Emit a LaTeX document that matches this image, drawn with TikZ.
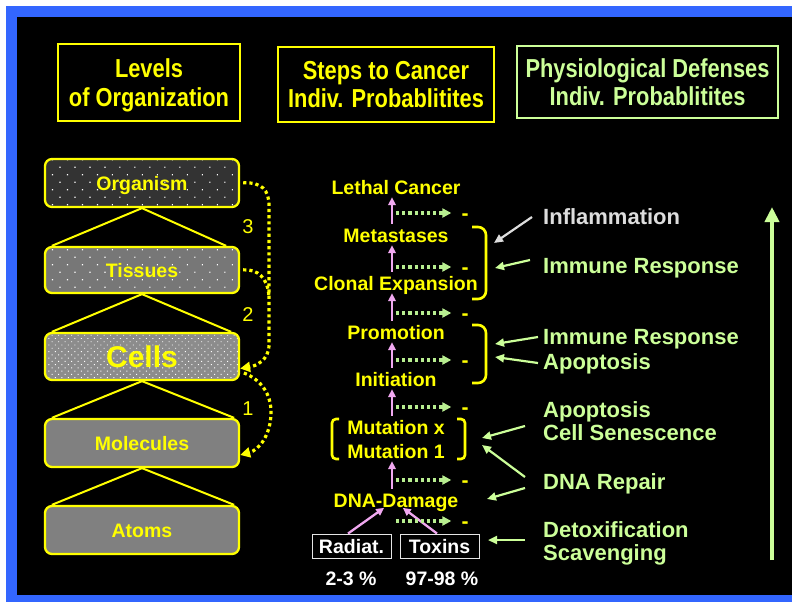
\documentclass[tikz,border=0pt]{standalone}
\usepackage{fontspec}
\setmainfont{Liberation Sans}
\newfontfamily\condfont[FakeStretch=0.84]{Liberation Sans}
\usetikzlibrary{arrows.meta,patterns.meta}
\definecolor{ylw}{HTML}{FFFF00}
\definecolor{lgreen}{HTML}{CCFF99}
\definecolor{dgreen}{HTML}{B8EE90}
\definecolor{pinkc}{HTML}{F0A8F0}
\definecolor{bluec}{HTML}{3366FF}
\definecolor{inflc}{HTML}{DDDDDD}
\definecolor{gA}{HTML}{333333}
\definecolor{gB}{HTML}{777777}
\definecolor{gC}{HTML}{8C8C8C}
\definecolor{gM}{HTML}{808080}
\begin{document}
\begin{tikzpicture}[x=1pt,y=-1pt,
  titlebox/.style={draw=#1, line width=2.3pt, text=#1, align=center,
    font=\condfont\bfseries\fontsize{26}{28.5}\selectfont, inner sep=0pt, text depth=0pt},
  level/.style={draw=ylw, line width=2.3pt, rounded corners=7pt, minimum width=194pt,
    text=ylw, font=\bfseries\fontsize{19.5}{20}\selectfont, inner sep=0pt,
    text height=14pt, text depth=0pt, preaction={fill=#1}},
  dotsA/.style={pattern={Dots[radius=0.8pt,distance=10.6pt,angle=45]}, pattern color=white},
  dotsB/.style={pattern={Dots[radius=0.65pt,distance=4.6pt,angle=45]}, pattern color=white},
  ylink/.style={draw=ylw, line width=2pt},
  ydot/.style={draw=ylw, line width=3.2pt, dash pattern=on 3.2pt off 3pt},
  ytip/.style={-{Triangle[length=10pt,width=10pt]}},
  num/.style={text=ylw, font=\fontsize{20}{20}\selectfont, inner sep=0pt, text height=14.3pt, text depth=0pt},
  steplbl/.style={text=ylw, font=\bfseries\fontsize{19.5}{20}\selectfont, inner sep=0pt, text height=14pt, text depth=0pt},
  srcbox/.style={draw=white!80!gray, line width=0.9pt, minimum width=79pt, minimum height=24pt,
    text=white, font=\bfseries\fontsize{19.5}{20}\selectfont, inner sep=0pt, text height=14pt, text depth=0pt},
  pct/.style={text=white, font=\bfseries\fontsize{19.5}{20}\selectfont, inner sep=0pt, text height=14pt, text depth=0pt},
  pinkarr/.style={draw=pinkc, line width=2.3pt, -{Triangle[length=8pt,width=7.5pt]}, shorten <=4pt, shorten >=3pt},
  gdot/.style={draw=dgreen, line width=3.2pt, dash pattern=on 3.2pt off 3pt, -{Triangle[length=9pt,width=9pt]}, shorten >=10pt},
  minus/.style={text=ylw, font=\bfseries\fontsize{21}{21}\selectfont, inner sep=0pt, anchor=base, text height=7pt, text depth=0pt},
  brk/.style={draw=ylw, line width=2.6pt},
  deflbl/.style={text=lgreen, font=\bfseries\fontsize{22}{22}\selectfont, inner sep=0pt, anchor=west, text height=15.8pt, text depth=0pt},
  garr/.style={draw=lgreen, line width=2.2pt, -{Triangle[length=9pt,width=8pt]}},
  bigarr/.style={draw=lgreen, line width=4pt, -{Triangle[length=15pt,width=14pt]}}
]
% background
\useasboundingbox (0,0) rectangle (792,602);
\fill[white] (0,0) rectangle (792,602);
\fill[bluec] (6,6) rectangle (792,602);
\fill[black] (17,17) rectangle (792,595);

% titles
\node[titlebox=ylw, minimum width=182pt, minimum height=77pt] (tlev) at (149,82.5) {Levels\\of Organization};
\node[titlebox=ylw, minimum width=216pt, minimum height=75pt] (tsteps) at (386,84.5) {Steps to Cancer\\Indiv. Probablitites};
\node[titlebox=lgreen, minimum width=261pt, minimum height=72pt] (tphys) at (647.5,82) {Physiological Defenses\\Indiv. Probablitites};

% levels of organization
\node[level=gA, dotsA, minimum height=48pt] (org) at (142,183) {Organism};
\node[level=gB, dotsA, minimum height=46pt] (tis) at (142,270) {Tissues};
\node[level=gC, dotsB, minimum height=47pt, font=\bfseries\fontsize{30}{30}\selectfont, text height=21.5pt] (cells) at (142,356.5) {Cells};
\node[level=gM, minimum height=48pt] (mol) at (142,443) {Molecules};
\node[level=gM, minimum height=48pt] (atoms) at (142,530) {Atoms};

\draw[ylink] (org.south) -- ([xshift=8pt]tis.north west);
\draw[ylink] (org.south) -- ([xshift=-14pt]tis.north east);
\draw[ylink] (tis.south) -- ([xshift=8pt]cells.north west);
\draw[ylink] (tis.south) -- ([xshift=-9pt]cells.north east);
\draw[ylink] (cells.south) -- ([xshift=8pt]mol.north west);
\draw[ylink] (cells.south) -- ([xshift=-6pt]mol.north east);
\draw[ylink] (mol.south) -- ([xshift=8pt]atoms.north west);
\draw[ylink] (mol.south) -- ([xshift=-6pt]atoms.north east);

% dotted level arrows
\draw[ydot, ytip, shorten <=3pt] (org.east) .. controls (262,182) and (269,190) .. (269,206) -- (269,345)
   .. controls (269,360) and (256,366) .. ([yshift=-12pt]cells.east);
\draw[ydot, shorten <=3pt] (tis.east) .. controls (258,269) and (268,278) .. (269,297);
\draw[ydot, ytip, shorten <=4pt] ([yshift=-15pt]cells.east) .. controls (262,380) and (271,395) .. (271,412)
   .. controls (271,435) and (259,450) .. ([yshift=-12pt]mol.east);
\node[num] (n3) at (248,226) {3};
\node[num] (n2) at (248,314) {2};
\node[num] (n1) at (248,408) {1};

% steps to cancer
\coordinate (colx) at (392,0);
\node[steplbl] (lethal) at (396,187) {Lethal Cancer};
\node[steplbl] (meta) at (396,235) {Metastases};
\node[steplbl] (clonal) at (396,283) {Clonal Expansion};
\node[steplbl] (promo) at (396,332) {Promotion};
\node[steplbl] (init) at (396,379) {Initiation};
\node[steplbl] (mutx) at (396,427) {Mutation x};
\node[steplbl] (mut1) at (396,451) {Mutation 1};
\node[steplbl] (dna) at (396,500) {DNA-Damage};
\node[srcbox] (rad) at (351.5,546) {Radiat.};
\node[srcbox] (tox) at (439.5,546) {Toxins};
\node[pct] (pr) at (351,578) {2-3 \%};
\node[pct] (pt) at (442,578) {97-98 \%};

\draw[pinkarr] (meta.north -| colx) -- (lethal.south -| colx);
\draw[pinkarr] (clonal.north -| colx) -- (meta.south -| colx);
\draw[pinkarr] (promo.north -| colx) -- (clonal.south -| colx);
\draw[pinkarr] (init.north -| colx) -- (promo.south -| colx);
\draw[pinkarr] (mutx.north -| colx) -- (init.south -| colx);
\draw[pinkarr] (dna.north -| colx) -- (mut1.south -| colx);
\draw[pinkarr, shorten <=0pt, shorten >=1pt] ([xshift=-3.5pt]rad.north) -- ([xshift=-11pt]dna.south);
\draw[pinkarr, shorten <=0pt, shorten >=1pt] ([xshift=-2.5pt]tox.north) -- ([xshift=6pt]dna.south);

% dotted green arrows and minus signs
\foreach \i/\y in {1/213,2/267,3/313,4/360,5/407,6/480,7/521}{
  \coordinate (s\i) at (396,\y);
  \node[minus] (d\i) at (465,\y+7.5) {-};
  \draw[gdot] (s\i) -- (s\i -| d\i.west);
}

% brackets
\draw[brk, rounded corners=8pt] (472,227) -- (486,227) -- (486,299) -- (472,299);
\draw[brk, rounded corners=8pt] (472,325) -- (486,325) -- (486,383) -- (472,383);
\draw[brk, rounded corners=4pt] (339,419) -- (332,419) -- (332,459) -- (339,459);
\draw[brk, rounded corners=4pt] (457,419) -- (465,419) -- (465,459) -- (457,459);

% defenses
\node[deflbl, text=inflc] (infl) at (543,217) {Inflammation};
\node[deflbl] (ir1) at (543,266) {Immune Response};
\node[deflbl] (ir2) at (543,337) {Immune Response};
\node[deflbl] (apo1) at (543,362) {Apoptosis};
\node[deflbl] (apo2) at (543,410) {Apoptosis};
\node[deflbl] (csen) at (543,433) {Cell Senescence};
\node[deflbl] (dnar) at (543,482) {DNA Repair};
\node[deflbl] (detox) at (543,530) {Detoxification};
\node[deflbl] (scav) at (543,553) {Scavenging};

\coordinate (bk1) at (494,243);
\coordinate (bk2) at (495,268);
\coordinate (bk3) at (495,344);
\coordinate (bk4) at (495,357);
\coordinate (bk5) at (482,438);
\coordinate (bk6) at (482,445);
\coordinate (bk7) at (487,499);
\coordinate (bk8) at (488,540);
\draw[garr, draw=inflc] ([xshift=-11pt]infl.west) -- (bk1);
\draw[garr] ([xshift=-13pt,yshift=6pt]ir1.west) -- (bk2);
\draw[garr] ([xshift=-5pt]ir2.west) -- (bk3);
\draw[garr] ([xshift=-5pt,yshift=-1pt]apo1.west) -- (bk4);
\draw[garr] ([xshift=-18pt,yshift=-16pt]apo2.west) -- (bk5);
\draw[garr] ([xshift=-18pt,yshift=5pt]dnar.west) -- (bk6);
\draw[garr] ([xshift=-18pt,yshift=-6pt]dnar.west) -- (bk7);
\draw[garr] ([xshift=-18pt,yshift=-10pt]detox.west) -- (bk8);

\coordinate (bigs) at (772,560);
\coordinate (bige) at (772,207);
\draw[bigarr] (bigs) -- (bige);
\end{tikzpicture}
\end{document}
